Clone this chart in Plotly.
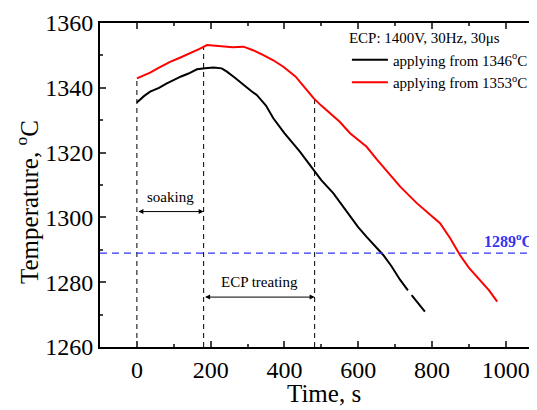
import numpy as np
import plotly.graph_objects as go

# Temperature traces
t_1346 = [0, 10, 20, 36, 60, 80, 99, 120, 140, 163, 185, 208, 230, 244, 265, 289,
          310, 325, 350, 370, 400, 442, 478, 500, 533, 570, 600, 623, 650, 668,
          690, 714, 735, None, 745, 760, 781]
T_1346 = [1335.5, 1336.6, 1337.5, 1338.8, 1340.0, 1341.3, 1342.4, 1343.5, 1344.4,
          1345.7, 1346.0, 1346.3, 1346.0, 1345.0, 1343.2, 1340.9, 1339.0, 1337.8,
          1334.5, 1330.6, 1326.0, 1320.3, 1314.6, 1311.5, 1307.4, 1301.5, 1297.0,
          1294.0, 1290.6, 1288.4, 1285.0, 1280.7, 1277.5, None, 1276.0, 1274.0, 1270.9]

t_1353 = [0, 15, 36, 60, 90, 115, 144, 170, 190, 210, 235, 260, 289, 315, 343, 370,
          397, 430, 461, 479, 500, 524, 550, 578, 605, 623, 650, 668, 714, 759, 786,
          822, 850, 876, 900, 930, 955, 977]
T_1353 = [1342.9, 1343.6, 1344.7, 1346.2, 1348.0, 1349.2, 1350.6, 1352.0, 1353.2,
          1353.0, 1352.9, 1352.5, 1352.7, 1351.6, 1350.1, 1348.5, 1346.5, 1343.5,
          1339.3, 1336.8, 1334.5, 1332.1, 1329.5, 1326.0, 1323.4, 1321.8, 1318.0,
          1315.6, 1309.5, 1304.4, 1301.8, 1298.2, 1293.5, 1288.4, 1284.5, 1280.7,
          1277.5, 1274.0]

# Process stage boundaries (s) and threshold temperature
stage_bounds = [0, 181, 482]
threshold_T = 1289

x_ticks = [0, 200, 400, 600, 800, 1000]
y_ticks = [1260, 1280, 1300, 1320, 1340, 1360]

FONT = "Liberation Serif, Times New Roman, serif"
BLUE = "#3434f2"

fig = go.Figure()

fig.add_trace(go.Scatter(
    x=t_1346, y=T_1346, mode="lines", name="applying from 1346<sup>o</sup>C",
    line=dict(color="black", width=2), connectgaps=False,
))
fig.add_trace(go.Scatter(
    x=t_1353, y=T_1353, mode="lines", name="applying from 1353<sup>o</sup>C",
    line=dict(color="#ff0000", width=2),
))

# vertical dashed guides, from the bottom up to the red curve
red_t = np.array(t_1353, dtype=float)
red_T = np.array(T_1353, dtype=float)
for tb in stage_bounds:
    top = float(np.interp(tb, red_t, red_T))
    fig.add_shape(type="line", xref="x", yref="y", x0=tb, x1=tb, y0=1260, y1=top,
                  line=dict(color="black", width=1, dash="5px,4px"), layer="below")

fig.add_hline(y=threshold_T, line=dict(color=BLUE, width=1.3, dash="7px,5px"))

# double arrows for the stages
arrow_T = [1301.8, 1275.4]
label_T = [1306.2, 1280.0]
labels = ["soaking", "ECP treating"]
for i in range(2):
    x0, x1 = stage_bounds[i], stage_bounds[i + 1]
    fig.add_annotation(
        x=x1, y=arrow_T[i], ax=x0, ay=arrow_T[i], xref="x", yref="y",
        axref="x", ayref="y", text="", showarrow=True, arrowside="end+start",
        arrowhead=2, arrowsize=1, arrowwidth=1, arrowcolor="black",
    )
    fig.add_annotation(
        x=(x0 + x1) / 2, y=label_T[i], xref="x", yref="y", text=labels[i],
        showarrow=False, font=dict(family=FONT, size=15, color="black"),
    )

fig.add_annotation(
    x=1080, y=1293, xref="x", yref="y", xanchor="right", yanchor="middle",
    text="<b>1289<sup>o</sup>C</b>",
    showarrow=False, font=dict(family=FONT, size=16, color=BLUE),
)

# axis titles
fig.add_annotation(
    x=507, y=-0.142, xref="x", yref="paper", xanchor="center", yanchor="middle",
    text="Time, s", showarrow=False,
    font=dict(family=FONT, size=25, color="black"),
)
fig.add_annotation(
    x=-0.167, y=0.4475, xref="paper", yref="paper", xanchor="center", yanchor="middle",
    text="Temperature, <sup>o</sup>C",
    textangle=-90, showarrow=False, font=dict(family=FONT, size=25, color="black"),
)

# the page body keeps an 8px margin, so the figure is 8px smaller each way
fig.update_layout(
    width=529, height=402,
    margin=dict(l=92, r=0, t=15, b=63, autoexpand=False),
    plot_bgcolor="white", paper_bgcolor="white",
    font=dict(family=FONT, size=24, color="black"),
    showlegend=True,
    legend=dict(
        x=0.565, y=0.997, xanchor="left", yanchor="top",
        bgcolor="rgba(0,0,0,0)", itemwidth=36,
        title=dict(text="ECP: 1400V, 30Hz, 30μs", font=dict(family=FONT, size=15)),
        font=dict(family=FONT, size=15, color="black"),
        tracegroupgap=0,
    ),
    xaxis=dict(
        range=[-100, 1085], tickvals=x_ticks, ticks="inside", ticklen=6,
        tickwidth=1.5, showline=True, linewidth=2, linecolor="black",
        mirror="ticks", showgrid=False, zeroline=False, automargin=False,
        minor=dict(dtick=100, tick0=0, ticks="inside", ticklen=3, tickwidth=1.5),
        tickfont=dict(family=FONT, size=24),
    ),
    yaxis=dict(
        range=[1260, 1360], tickvals=y_ticks, ticks="inside", ticklen=6,
        tickwidth=1.5, showline=True, linewidth=2, linecolor="black",
        showgrid=False, zeroline=False, automargin=False,
        minor=dict(dtick=10, tick0=1260, ticks="inside", ticklen=3, tickwidth=1.5),
        tickfont=dict(family=FONT, size=24),
    ),
)

fig.write_html("out.html")
